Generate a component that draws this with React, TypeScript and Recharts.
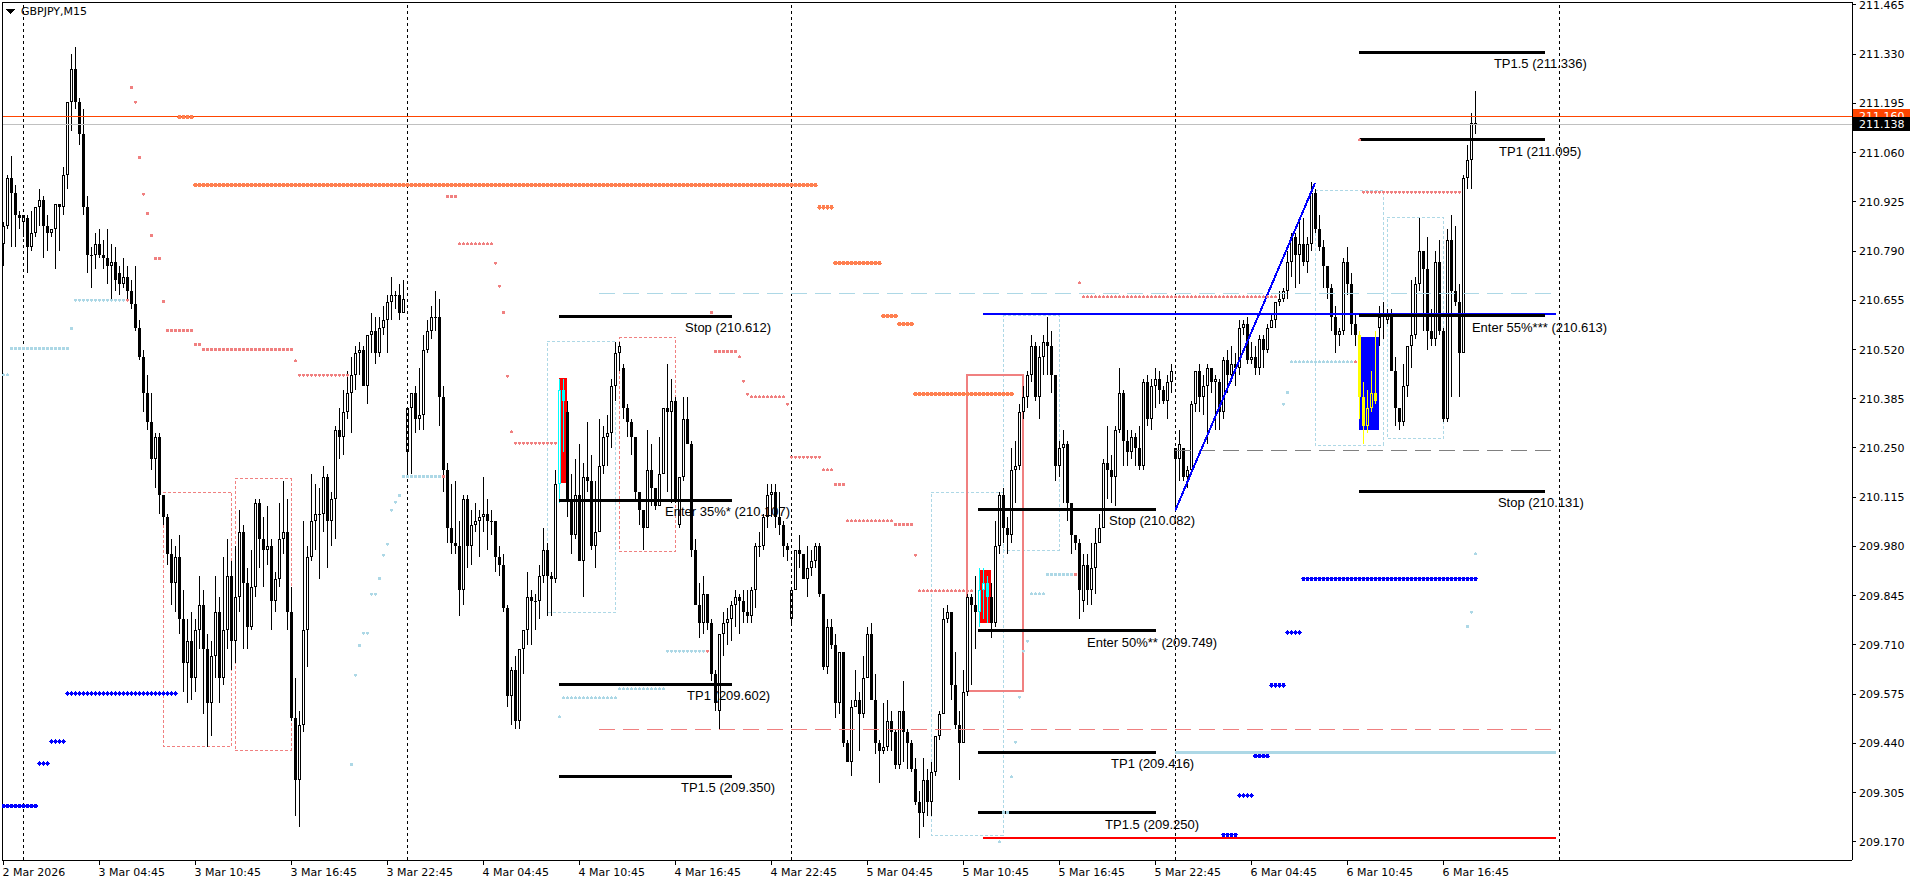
import {
  ComposedChart,
  Bar,
  Scatter,
  XAxis,
  YAxis,
  ReferenceLine,
  ReferenceArea,
  ReferenceDot,
} from "recharts";

// GBPJPY M15, prices in points above 209.000 (1 point = 0.001)
const opens = [
  1810, 1860, 1990, 1950, 1890, 1870, 1880, 1800, 1840, 1910,
  1930, 1860, 1840, 1850, 1920, 1910, 2000, 2200, 2290, 2200,
  2110, 1910, 1780, 1780, 1810, 1780, 1770, 1750, 1760, 1730,
  1700, 1720, 1680, 1645, 1580, 1500, 1400, 1320, 1220, 1280,
  1120, 1060, 960, 880, 950, 780, 660, 720, 620, 750,
  820, 700, 550, 680, 800, 620, 750, 900, 720, 840,
  1020, 880, 760, 870, 1100, 1000, 970, 980, 830, 890,
  1000, 1020, 800, 510, 340, 490, 750, 950, 1050, 1070,
  1070, 1170, 1050, 1110, 1300, 1280, 1350, 1400, 1450, 1510,
  1520, 1420, 1560, 1570, 1510, 1580, 1600, 1650, 1670, 1670,
  1620, 1240, 1360, 1400, 1330, 1340, 1520, 1570, 1610, 1610,
  1390, 1190, 1030, 990, 980, 860, 1110, 980, 1040, 1050,
  1060, 1070, 1050, 1050, 950, 930, 810, 570, 640, 500,
  700, 750, 840, 830, 830, 900, 970, 900, 890, 1150,
  1410, 1350, 1110, 1010, 1120, 940, 1170, 1160, 980, 1020,
  1200, 1280, 1290, 1420, 1510, 1470, 1360, 1320, 1280, 1130,
  1080, 1030, 1190, 1140, 1090, 1180, 1360, 1350, 1380, 1040,
  1170, 1330, 1260, 970, 820, 770, 850, 770, 630, 530,
  740, 770, 780, 820, 840, 830, 800, 790, 860, 980,
  980, 1060, 1120, 1130, 1060, 1040, 980, 780, 860, 970,
  960, 890, 920, 940, 980, 850, 650, 760, 710, 550,
  690, 440, 390, 540, 560, 520, 620, 740, 560, 440,
  420, 430, 500, 470, 380, 530, 470, 440, 370, 280,
  250, 340, 280, 360, 460, 520, 780, 800, 600, 490,
  440, 580, 840, 820, 800, 860, 880, 840, 770, 980,
  1120, 1030, 1010, 1190, 1200, 1350, 1390, 1450, 1530, 1390,
  1500, 1540, 1530, 1450, 1200, 1250, 1260, 1100, 1010, 990,
  830, 930, 860, 920, 990, 1030, 1210, 1190, 1170, 1300,
  1400, 1270, 1240, 1280, 1250, 1200, 1430, 1330, 1420, 1440,
  1410, 1380, 1430, 1250, 1220, 1250, 1170, 1190, 1370, 1460,
  1390, 1420, 1470, 1430, 1430, 1350, 1490, 1450, 1480, 1470,
  1580, 1590, 1490, 1500, 1470, 1550, 1520, 1580, 1600, 1650,
  1660, 1680, 1760, 1830, 1780, 1810, 1760, 1810, 1950, 1850,
  1800, 1750, 1690, 1610, 1560, 1570, 1760, 1700, 1590, 1560,
  1390, 1310, 1360, 1400, 1580, 1610, 1600, 1620, 1460, 1360,
  1320, 1420, 1530, 1560, 1700, 1790, 1740, 1570, 1550, 1760,
  1570, 1330, 1820, 1680, 1650, 1510, 1990, 2040, 2140,
];
const highs = [
  1870, 2000, 2050, 1970, 1900, 1890, 1890, 1900, 1910, 1960,
  1940, 1890, 1850, 1920, 1920, 2020, 2200, 2330, 2350, 2210,
  2180, 1940, 1800, 1840, 1850, 1820, 1850, 1810, 1800, 1750,
  1770, 1750, 1710, 1750, 1600, 1520, 1450, 1400, 1290, 1290,
  1120, 1070, 1000, 980, 1010, 860, 780, 800, 780, 900,
  860, 740, 720, 900, 840, 950, 1000, 940, 980, 1080,
  1040, 920, 970, 1110, 1110, 1060, 1090, 1000, 910, 1100,
  1160, 1110, 870, 620, 530, 1050, 980, 1180, 1150, 1140,
  1200, 1180, 1130, 1310, 1360, 1410, 1460, 1500, 1530, 1540,
  1530, 1560, 1620, 1610, 1610, 1640, 1670, 1720, 1680, 1700,
  1710, 1360, 1400, 1420, 1470, 1560, 1600, 1640, 1680, 1660,
  1420, 1210, 1150, 1160, 1050, 1120, 1120, 1080, 1100, 1080,
  1170, 1110, 1080, 1050, 980, 960, 820, 650, 680, 700,
  750, 910, 860, 850, 930, 1030, 990, 910, 1190, 1440,
  1440, 1380, 1180, 1220, 1260, 1210, 1320, 1230, 1160, 1330,
  1310, 1340, 1440, 1540, 1540, 1480, 1370, 1330, 1280, 1130,
  1080, 1300, 1260, 1140, 1280, 1360, 1480, 1440, 1390, 1170,
  1390, 1390, 1270, 1000, 880, 900, 850, 780, 640, 740,
  800, 810, 830, 860, 850, 860, 860, 870, 990, 1020,
  1070, 1150, 1150, 1150, 1130, 1050, 990, 860, 970, 1010,
  960, 980, 970, 990, 990, 850, 780, 780, 740, 690,
  690, 450, 560, 640, 580, 680, 760, 770, 630, 450,
  550, 560, 530, 480, 530, 610, 480, 450, 400, 310,
  400, 370, 390, 460, 530, 810, 820, 800, 690, 530,
  640, 850, 850, 900, 920, 920, 900, 880, 1050, 1130,
  1140, 1060, 1250, 1270, 1370, 1420, 1460, 1560, 1540, 1530,
  1560, 1610, 1570, 1450, 1270, 1300, 1270, 1100, 1010, 1000,
  960, 960, 990, 1030, 1070, 1220, 1310, 1230, 1310, 1470,
  1410, 1300, 1300, 1290, 1310, 1440, 1450, 1440, 1470, 1460,
  1420, 1450, 1480, 1250, 1300, 1250, 1200, 1380, 1460, 1480,
  1450, 1480, 1470, 1450, 1440, 1500, 1520, 1530, 1510, 1600,
  1600, 1610, 1540, 1530, 1560, 1560, 1590, 1620, 1650, 1680,
  1690, 1790, 1840, 1840, 1880, 1880, 1830, 1980, 1960, 1890,
  1820, 1750, 1700, 1640, 1580, 1770, 1800, 1730, 1620, 1570,
  1430, 1410, 1460, 1570, 1640, 1650, 1630, 1630, 1500, 1360,
  1480, 1530, 1710, 1720, 1880, 1790, 1830, 1630, 1790, 1820,
  1580, 1850, 1890, 1860, 1700, 2000, 2080, 2170, 2230,
];
const lows = [
  1750, 1850, 1800, 1800, 1850, 1830, 1730, 1790, 1830, 1860,
  1770, 1790, 1830, 1740, 1790, 1890, 1960, 2120, 2180, 2080,
  1890, 1730, 1690, 1740, 1770, 1740, 1700, 1660, 1680, 1670,
  1690, 1660, 1630, 1570, 1490, 1350, 1300, 1190, 1140, 1070,
  1040, 930, 820, 800, 740, 580, 550, 560, 580, 700,
  520, 430, 460, 620, 550, 600, 700, 640, 660, 800,
  700, 700, 750, 840, 920, 870, 930, 750, 800, 870,
  960, 750, 500, 240, 210, 470, 650, 940, 970, 890,
  1020, 920, 980, 1000, 1220, 1230, 1330, 1290, 1410, 1450,
  1420, 1370, 1510, 1480, 1500, 1560, 1510, 1600, 1630, 1600,
  1620, 1180, 1180, 1290, 1300, 1300, 1510, 1550, 1570, 1310,
  1130, 990, 960, 960, 790, 820, 920, 930, 1020, 950,
  1020, 970, 1010, 910, 900, 800, 540, 490, 480, 480,
  630, 710, 710, 750, 780, 880, 790, 790, 880, 1100,
  1240, 1060, 960, 1000, 940, 840, 1130, 970, 920, 1020,
  1180, 1200, 1250, 1380, 1460, 1330, 1280, 1230, 1110, 1040,
  970, 1030, 1090, 1080, 1090, 1180, 1130, 1100, 1100, 1030,
  1160, 1260, 950, 820, 730, 740, 750, 610, 530, 480,
  680, 710, 720, 760, 740, 770, 770, 770, 810, 950,
  970, 1030, 1060, 1030, 1010, 950, 940, 770, 860, 920,
  890, 840, 900, 920, 840, 640, 630, 700, 510, 520,
  430, 390, 350, 540, 420, 510, 620, 560, 410, 330,
  410, 420, 420, 370, 370, 390, 370, 360, 270, 180,
  210, 240, 240, 350, 450, 520, 770, 560, 480, 340,
  440, 570, 600, 700, 760, 780, 770, 730, 760, 960,
  990, 960, 990, 1100, 1190, 1330, 1360, 1430, 1380, 1330,
  1450, 1450, 1400, 1160, 1170, 1100, 1050, 960, 970, 780,
  800, 820, 820, 850, 990, 1030, 1110, 1100, 1090, 1290,
  1200, 1200, 1220, 1200, 1190, 1190, 1310, 1300, 1360, 1370,
  1370, 1330, 1400, 1080, 1160, 1160, 1140, 1180, 1350, 1350,
  1340, 1260, 1400, 1300, 1300, 1330, 1400, 1430, 1420, 1450,
  1560, 1480, 1480, 1450, 1450, 1470, 1510, 1580, 1580, 1640,
  1650, 1660, 1720, 1690, 1700, 1750, 1730, 1790, 1840, 1790,
  1690, 1660, 1570, 1510, 1530, 1560, 1670, 1560, 1530, 1330,
  1260, 1290, 1350, 1370, 1530, 1550, 1590, 1460, 1310, 1300,
  1310, 1390, 1470, 1550, 1680, 1570, 1520, 1530, 1530, 1560,
  1320, 1320, 1390, 1640, 1390, 1510, 1960, 1960, 2110,
];
const closes = [
  1860, 1990, 1950, 1890, 1880, 1890, 1800, 1840, 1910, 1930,
  1860, 1840, 1850, 1920, 1910, 2000, 2200, 2290, 2200, 2110,
  1910, 1780, 1780, 1810, 1780, 1770, 1750, 1760, 1710, 1700,
  1720, 1680, 1645, 1580, 1500, 1400, 1320, 1220, 1280, 1120,
  1060, 960, 880, 950, 780, 660, 720, 620, 750, 820,
  700, 550, 680, 800, 620, 750, 900, 720, 840, 1020,
  880, 760, 870, 1100, 1000, 970, 980, 830, 890, 1000,
  1020, 800, 510, 340, 490, 750, 950, 1050, 1070, 1070,
  1170, 1050, 1110, 1300, 1280, 1350, 1400, 1450, 1510, 1520,
  1420, 1560, 1570, 1510, 1580, 1600, 1650, 1670, 1670, 1620,
  1660, 1360, 1400, 1330, 1340, 1520, 1570, 1610, 1610, 1390,
  1190, 1030, 990, 980, 860, 1110, 980, 1040, 1050, 1060,
  1070, 1050, 1050, 950, 930, 810, 570, 640, 500, 700,
  750, 840, 830, 830, 900, 970, 900, 890, 1150, 1410,
  1380, 1110, 1010, 1120, 940, 1170, 1160, 980, 1020, 1200,
  1280, 1290, 1420, 1510, 1530, 1360, 1320, 1280, 1130, 1080,
  1030, 1190, 1140, 1090, 1180, 1360, 1350, 1380, 1110, 1170,
  1330, 1260, 970, 820, 770, 850, 770, 630, 550, 740,
  770, 780, 820, 840, 830, 800, 790, 860, 980, 980,
  1060, 1120, 1130, 1060, 1040, 980, 970, 860, 970, 960,
  890, 920, 940, 980, 850, 650, 760, 710, 550, 690,
  440, 390, 540, 560, 520, 620, 740, 560, 440, 420,
  430, 500, 470, 380, 530, 470, 440, 370, 280, 250,
  340, 280, 360, 460, 520, 780, 800, 600, 490, 440,
  580, 840, 820, 800, 860, 880, 840, 770, 980, 1120,
  1030, 1010, 1190, 1200, 1350, 1390, 1450, 1530, 1390, 1500,
  1540, 1530, 1450, 1200, 1250, 1260, 1100, 1010, 990, 860,
  930, 860, 920, 990, 1030, 1210, 1190, 1170, 1300, 1400,
  1270, 1240, 1280, 1250, 1200, 1430, 1330, 1420, 1440, 1410,
  1380, 1430, 1460, 1220, 1260, 1170, 1190, 1370, 1460, 1390,
  1420, 1470, 1430, 1440, 1350, 1490, 1450, 1480, 1470, 1580,
  1590, 1490, 1500, 1470, 1550, 1520, 1580, 1600, 1650, 1660,
  1680, 1760, 1830, 1780, 1810, 1760, 1810, 1950, 1850, 1800,
  1750, 1690, 1610, 1560, 1570, 1760, 1700, 1590, 1560, 1390,
  1310, 1360, 1400, 1380, 1610, 1620, 1620, 1460, 1360, 1320,
  1420, 1530, 1560, 1700, 1790, 1740, 1570, 1550, 1760, 1570,
  1330, 1820, 1680, 1650, 1510, 1990, 2040, 2140, 2138,
];

// bars drawn in highlight colours
const cyanBars = [139, 140, 244, 245, 246];
const yellowBars = [339, 340, 341, 342, 343];

// x axis: bar index -> label
const timeTicks = [0, 24, 48, 72, 96, 120, 144, 168, 192, 216, 240, 264, 288, 312, 336, 360];
const timeLabels = [
  "2 Mar 2026", "3 Mar 04:45", "3 Mar 10:45", "3 Mar 16:45", "3 Mar 22:45",
  "4 Mar 04:45", "4 Mar 10:45", "4 Mar 16:45", "4 Mar 22:45", "5 Mar 04:45",
  "5 Mar 10:45", "5 Mar 16:45", "5 Mar 22:45", "6 Mar 04:45", "6 Mar 10:45",
  "6 Mar 16:45",
];
const priceTicks = [
  211.465, 211.33, 211.195, 211.06, 210.925, 210.79, 210.655, 210.52, 210.385,
  210.25, 210.115, 209.98, 209.845, 209.71, 209.575, 209.44, 209.305, 209.17,
];
const daySeparators = [5, 101, 197, 293, 389];

// indicator dots: [fromBar, toBar, price]
const coralRuns = [
  [44, 47, 211.157], [48, 203, 210.971], [204, 207, 210.91], [208, 219, 210.757],
  [220, 223, 210.612], [224, 227, 210.59], [228, 252, 210.398],
];
const salmonRuns = [
  [31, 31, 210.655], [32, 32, 211.239], [33, 33, 211.198], [34, 34, 211.047],
  [35, 35, 210.946], [36, 36, 210.893], [37, 37, 210.833], [38, 39, 210.77],
  [40, 40, 210.652], [41, 47, 210.572], [48, 49, 210.534], [50, 72, 210.52],
  [73, 73, 210.489], [74, 86, 210.45], [110, 110, 210.172], [111, 113, 210.94],
  [114, 122, 210.81], [123, 123, 210.757], [124, 124, 210.694], [125, 125, 210.622],
  [126, 126, 210.447], [127, 127, 210.294], [128, 138, 210.263], [176, 176, 209.693],
  [177, 177, 210.622], [178, 183, 210.515], [184, 184, 210.5], [185, 185, 210.433],
  [186, 186, 210.398], [187, 195, 210.39], [196, 196, 210.37], [197, 204, 210.225],
  [205, 207, 210.19], [208, 210, 210.15], [211, 222, 210.05], [223, 227, 210.04],
  [228, 228, 209.956], [229, 242, 209.858], [268, 268, 209.903], [269, 269, 210.703],
  [270, 318, 210.665], [338, 338, 210.486], [339, 339, 211.095], [340, 364, 210.952],
];
const lightBlueRuns = [
  [0, 1, 210.451], [2, 16, 210.523], [17, 17, 210.578], [18, 30, 210.655],
  [87, 87, 209.382], [88, 88, 209.627], [89, 89, 209.708], [90, 91, 209.742],
  [92, 93, 209.849], [94, 94, 209.892], [95, 95, 209.956], [96, 96, 209.986],
  [97, 97, 210.079], [98, 98, 210.101], [99, 99, 210.12], [100, 109, 210.172],
  [139, 139, 209.513], [140, 153, 209.565], [154, 165, 209.589], [166, 175, 209.693],
  [249, 249, 209.17], [250, 251, 209.25], [252, 252, 209.348], [253, 253, 209.443],
  [254, 254, 209.567], [255, 255, 209.693], [256, 256, 209.72], [257, 260, 209.85],
  [261, 267, 209.903], [320, 320, 210.37], [321, 321, 210.402], [322, 337, 210.486],
  [366, 366, 209.76], [367, 367, 209.8], [368, 368, 209.96],
];
const blueRuns = [
  [0, 8, 209.268], [9, 11, 209.385], [12, 15, 209.445], [16, 43, 209.577],
  [305, 308, 209.189], [309, 312, 209.297], [313, 316, 209.405], [317, 320, 209.599],
  [321, 324, 209.744], [325, 368, 209.891],
];

// trade levels drawn on the chart
const levels = [
  { p: 210.612, from: 138.9, to: 182.1, text: "Stop (210.612)", at: 170.4 },
  { p: 210.107, from: 138.9, to: 182.1, text: "Enter 35%* (210.107)", at: 165.4 },
  { p: 209.602, from: 138.9, to: 182.1, text: "TP1 (209.602)", at: 170.9 },
  { p: 209.35, from: 138.9, to: 182.1, text: "TP1.5 (209.350)", at: 169.4 },
  { p: 210.082, from: 243.6, to: 288.1, text: "Stop (210.082)", at: 276.4 },
  { p: 209.749, from: 243.6, to: 288.1, text: "Enter 50%** (209.749)", at: 270.9 },
  { p: 209.416, from: 243.6, to: 288.1, text: "TP1 (209.416)", at: 276.9 },
  { p: 209.25, from: 243.6, to: 288.1, text: "TP1.5 (209.250)", at: 275.4 },
  { p: 211.336, from: 338.9, to: 385.4, text: "TP1.5 (211.336)", at: 372.6 },
  { p: 211.095, from: 338.9, to: 385.4, text: "TP1 (211.095)", at: 373.9 },
  { p: 210.613, from: 338.9, to: 385.4, text: "Enter 55%*** (210.613)", at: 367.1 },
  { p: 210.131, from: 338.9, to: 385.4, text: "Stop (210.131)", at: 373.6 },
];
const solidLines = [
  { x1: 244.9, y1: 210.617, x2: 388.1, y2: 210.617, color: "#0000ff", w: 2 },
  { x1: 244.9, y1: 209.181, x2: 388, y2: 209.181, color: "#ff0000", w: 2 },
  { x1: 292.9, y1: 209.414, x2: 388, y2: 209.414, color: "#add8e6", w: 3 },
  { x1: 292.9, y1: 210.078, x2: 327.9, y2: 210.977, color: "#0000ff", w: 2 },
];
const dashedLines = [
  { x1: 148.9, x2: 387.4, p: 210.675, color: "#add8e6" },
  { x1: 148.9, x2: 387.4, p: 209.479, color: "#f08080" },
  { x1: 292.9, x2: 388, p: 210.244, color: "#808080" },
];
const boxes = [
  { x1: 39.9, x2: 57.1, y1: 210.129, y2: 209.432, color: "#f08080" },
  { x1: 57.9, x2: 71.9, y1: 210.165, y2: 209.421, color: "#f08080" },
  { x1: 153.9, x2: 168.1, y1: 210.554, y2: 209.967, color: "#f08080" },
  { x1: 135.9, x2: 153.1, y1: 210.543, y2: 209.799, color: "#add8e6" },
  { x1: 231.9, x2: 249.9, y1: 210.129, y2: 209.188, color: "#add8e6" },
  { x1: 249.9, x2: 263.9, y1: 210.614, y2: 209.97, color: "#add8e6" },
  { x1: 327.9, x2: 344.9, y1: 210.957, y2: 210.258, color: "#add8e6" },
  { x1: 345.9, x2: 360.1, y1: 210.881, y2: 210.277, color: "#add8e6" },
];
const filledBoxes = [
  { x1: 138.9, x2: 140.9, y1: 210.443, y2: 210.153, color: "#ff0000" },
  { x1: 243.9, x2: 246.9, y1: 209.915, y2: 209.77, color: "#ff0000" },
  { x1: 338.9, x2: 343.9, y1: 210.554, y2: 210.298, color: "#0000ff" },
];

const rows = closes.map((c, i) => ({
  i,
  o: 209 + opens[i] / 1000,
  c: 209 + c / 1000,
  range: [209 + lows[i] / 1000, 209 + highs[i] / 1000],
  tone: cyanBars.includes(i) ? "cyan" : yellowBars.includes(i) ? "yellow" : "",
}));

const expand = (runs: number[][]) =>
  runs.flatMap(([a, b, p]) => {
    const out = [];
    for (let i = a; i <= b; i++) out.push({ i, p });
    return out;
  });

const TICK_FONT = "'DejaVu Sans', Tahoma, sans-serif";
const LABEL_FONT = "'Liberation Sans', Arial, sans-serif";

function Candle(props: any) {
  const { x, y, width, height, payload } = props;
  if (x == null || y == null || !payload) return null;
  const [lo, hi] = payload.range;
  const top0 = Math.min(y, y + height);
  const h = Math.abs(height);
  const k = hi > lo ? h / (hi - lo) : 0;
  const cx = Math.floor(x + width / 2) + 0.5;
  const yo = top0 + (hi - payload.o) * k;
  const yc = top0 + (hi - payload.c) * k;
  const top = Math.round(Math.min(yo, yc));
  const bot = Math.round(Math.max(yo, yc));
  const col =
    payload.tone === "cyan" ? "#00ffff" : payload.tone === "yellow" ? "#ffff00" : "#000";
  const hole = payload.tone === "yellow" ? "#0000ff" : "#fff";
  let body;
  if (bot - top < 2) {
    body = <line x1={cx - 1.5} x2={cx + 1.5} y1={top + 0.5} y2={top + 0.5} stroke={col} />;
  } else if (payload.c > payload.o) {
    body = (
      <rect x={cx - 1} y={top + 0.5} width={2} height={bot - top - 1} fill={hole} stroke={col} />
    );
  } else {
    body = <rect x={cx - 1.5} y={top} width={3} height={bot - top} fill={col} />;
  }
  return (
    <g>
      <line x1={cx} x2={cx} y1={Math.round(top0)} y2={Math.round(top0 + h)} stroke={col} />
      {body}
    </g>
  );
}

const dot = (color: string, r: number) => (p: any) =>
  p.cx == null ? null : <circle cx={p.cx} cy={p.cy} r={r} fill={color} />;

function TimeTick(props: any) {
  const { x, y, payload } = props;
  const label = timeLabels[timeTicks.indexOf(payload.value)];
  return (
    <g>
      <line x1={x} x2={x} y1={y} y2={y + 5} stroke="#000" />
      <text x={x - 1} y={y + 16} fontSize={11} fontFamily={TICK_FONT} fill="#000">
        {label}
      </text>
    </g>
  );
}

function PriceTick(props: any) {
  const { x, y, payload } = props;
  return (
    <g>
      <line x1={x} x2={x + 4} y1={y} y2={y} stroke="#000" />
      <text x={x + 7} y={y + 4} fontSize={11} fontFamily={TICK_FONT} fill="#000">
        {Number(payload.value).toFixed(3)}
      </text>
    </g>
  );
}

function PriceTag(props: any) {
  const vb = props.viewBox || props;
  const right = vb.x + (vb.width || 0);
  return (
    <g>
      <rect x={right + 1} y={vb.y - 7} width={57} height={14} fill={props.bg} />
      <text x={right + 7} y={vb.y + 4} fontSize={11} fontFamily={TICK_FONT} fill="#fff">
        {props.text}
      </text>
    </g>
  );
}

function LevelText(props: any) {
  const vb = props.viewBox || props;
  return (
    <text x={vb.x} y={vb.y + 16} fontSize={13} fontFamily={LABEL_FONT} fill="#000">
      {props.text}
    </text>
  );
}

export default function App() {
  return (
    <div className="mt" style={{ position: "relative", width: 1916, height: 884, background: "#fff" }}>
      <style>{"body{margin:0}.mt svg{shape-rendering:crispEdges}"}</style>
      <ComposedChart
        width={1916}
        height={884}
        data={rows}
        margin={{ top: 0, right: 0, bottom: 0, left: 0 }}
      >
        <XAxis
          dataKey="i"
          type="number"
          domain={[-0.375, 462.125]}
          allowDataOverflow
          ticks={timeTicks}
          interval={0}
          tick={<TimeTick />}
          tickLine={false}
          tickSize={0}
          tickMargin={0}
          height={24}
          axisLine={{ stroke: "#000" }}
        />
        <XAxis
          xAxisId="top"
          orientation="top"
          type="number"
          domain={[0, 1]}
          allowDataOverflow
          height={2}
          tick={false}
          tickLine={false}
          axisLine={{ stroke: "#000" }}
        />
        <YAxis
          orientation="right"
          type="number"
          domain={[209.12, 211.4732]}
          allowDataOverflow
          ticks={priceTicks}
          interval={0}
          tick={<PriceTick />}
          tickLine={false}
          tickSize={0}
          tickMargin={0}
          width={64}
          axisLine={{ stroke: "#000" }}
        />
        <YAxis
          yAxisId="left"
          orientation="left"
          type="number"
          domain={[0, 1]}
          allowDataOverflow
          width={2}
          tick={false}
          tickLine={false}
          axisLine={{ stroke: "#000" }}
        />

        {filledBoxes.map((b, k) => (
          <ReferenceArea
            key={`fb${k}`}
            x1={b.x1}
            x2={b.x2}
            y1={b.y1}
            y2={b.y2}
            fill={b.color}
            fillOpacity={1}
            stroke="none"
          />
        ))}

        <Bar dataKey="range" barSize={3} shape={Candle} isAnimationActive={false} />

        {boxes.map((b, k) => (
          <ReferenceArea
            key={`bx${k}`}
            x1={b.x1}
            x2={b.x2}
            y1={b.y1}
            y2={b.y2}
            fill="none"
            stroke={b.color}
            strokeDasharray="3 2"
          />
        ))}
        <ReferenceArea
          x1={240.9}
          x2={254.9}
          y1={210.45}
          y2={209.583}
          fill="none"
          stroke="#f08080"
          strokeWidth={2}
        />

        {daySeparators.map((d) => (
          <ReferenceLine key={`d${d}`} x={d} stroke="#000" strokeDasharray="3 3" />
        ))}
        {dashedLines.map((l, k) => (
          <ReferenceLine
            key={`dl${k}`}
            segment={[{ x: l.x1, y: l.p }, { x: l.x2, y: l.p }]}
            stroke={l.color}
            strokeDasharray="16 8"
          />
        ))}
        {solidLines.map((l, k) => (
          <ReferenceLine
            key={`sl${k}`}
            segment={[{ x: l.x1, y: l.y1 }, { x: l.x2, y: l.y2 }]}
            stroke={l.color}
            strokeWidth={l.w}
          />
        ))}
        {levels.map((l, k) => (
          <ReferenceLine
            key={`lv${k}`}
            segment={[{ x: l.from, y: l.p }, { x: l.to, y: l.p }]}
            stroke="#000"
            strokeWidth={3}
          />
        ))}

        <Scatter data={expand(coralRuns)} dataKey="p" shape={dot("#ff7f50", 2.2)} isAnimationActive={false} />
        <Scatter data={expand(blueRuns)} dataKey="p" shape={dot("#0000ff", 2.2)} isAnimationActive={false} />
        <Scatter data={expand(salmonRuns)} dataKey="p" shape={dot("#f08080", 1.5)} isAnimationActive={false} />
        <Scatter data={expand(lightBlueRuns)} dataKey="p" shape={dot("#add8e6", 1.5)} isAnimationActive={false} />

        <ReferenceLine y={211.16} stroke="#ff4500" label={<PriceTag bg="#ff4500" text="211.160" />} />
        <ReferenceLine y={211.138} stroke="#c0c0c0" label={<PriceTag bg="#000" text="211.138" />} />

        {levels.map((l, k) => (
          <ReferenceDot
            key={`lt${k}`}
            x={l.at}
            y={l.p}
            r={0}
            fill="none"
            stroke="none"
            label={<LevelText text={l.text} />}
          />
        ))}
      </ComposedChart>
      <div
        style={{
          position: "absolute",
          left: 6,
          top: 5,
          display: "flex",
          alignItems: "center",
          gap: 6,
          fontFamily: TICK_FONT,
          fontSize: 11,
          lineHeight: "14px",
          color: "#000",
        }}
      >
        <svg width={9} height={6}>
          <polygon points="0,0 9,0 4.5,5" fill="#000" />
        </svg>
        <span>GBPJPY,M15</span>
      </div>
    </div>
  );
}
